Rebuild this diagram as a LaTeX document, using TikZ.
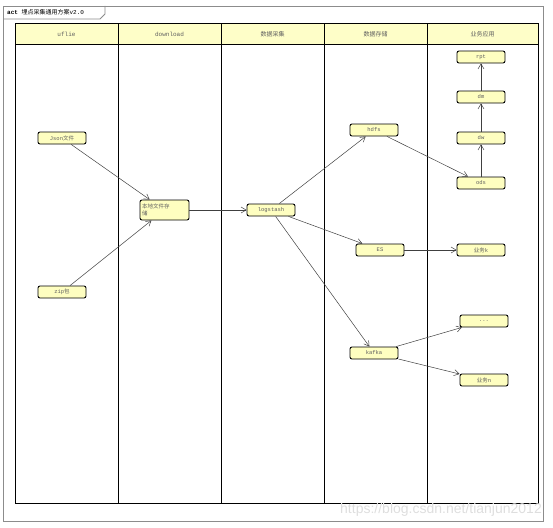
\documentclass[tikz,border=0pt]{standalone}
\usepackage{fontspec}
\setmainfont{Liberation Mono}
\newfontfamily\cjk{Noto Sans CJK SC}
\newfontfamily\wmfont{Liberation Sans}
\usetikzlibrary{arrows.meta}
\definecolor{nodeyel}{RGB}{254,254,192}
\definecolor{headyel}{RGB}{254,254,200}
\definecolor{txtgray}{RGB}{95,95,95}
\definecolor{framegray}{RGB}{140,140,140}
\tikzset{
  actbox/.style={draw=black, line width=0.9pt, rounded corners=2pt, fill=nodeyel,
    minimum width=48pt, minimum height=12pt, inner sep=1pt,
    font=\fontsize{5.5}{6.5}\selectfont, text=txtgray},
  conn/.style={draw=black!75, line width=0.5pt, -{Straight Barb[length=5pt,width=6pt]}},
  lanehead/.style={font=\fontsize{6}{7}\selectfont, text=txtgray},
  laneline/.style={draw=black, line width=1pt}
}
\begin{document}
\begin{tikzpicture}[x=1pt,y=-1pt]
\useasboundingbox (0,0) rectangle (553,527);
% outer frame and title tab
\draw[framegray, line width=0.8pt] (3,6) rectangle (543,521);
\draw[framegray, line width=0.8pt] (3,19) -- (100,19) -- (105,14) -- (105,6);
\node[anchor=west, font=\fontsize{6}{7}\selectfont, inner sep=0pt] (title) at (7,12.5)
  {\textbf{act} {\cjk 埋点采集通用方案}v2.0};
% header
\fill[headyel] (15,24) rectangle (538,45);
\draw[laneline] (15,24) rectangle (538,503);
\draw[laneline] (15,45) -- (538,45);
\foreach \x in {118,221,324,427} \draw[laneline] (\x,24) -- (\x,503);
\node[lanehead] (h1) at (66.5,34.5) {uflie};
\node[lanehead] (h2) at (169.5,34.5) {download};
\node[lanehead] (h3) at (272.5,34.5) {\cjk 数据采集};
\node[lanehead] (h4) at (375.5,34.5) {\cjk 数据存储};
\node[lanehead] (h5) at (482.5,34.5) {\cjk 业务应用};
% nodes
\node[actbox] (json) at (62,138) {Json{\cjk 文件}};
\node[actbox] (zip) at (62,292) {zip{\cjk 包}};
\node[actbox, minimum width=49pt, minimum height=20pt, text width=45pt, align=left] (local) at (164.5,210)
  {\cjk 本地文件存\\储};
\node[actbox] (logstash) at (271,210) {logstash};
\node[actbox] (hdfs) at (374,130) {hdfs};
\node[actbox] (es) at (380,250) {ES};
\node[actbox] (kafka) at (374,353) {kafka};
\node[actbox] (ods) at (481,183) {ods};
\node[actbox] (dw) at (481,138) {dw};
\node[actbox] (dm) at (481,97) {dm};
\node[actbox] (rpt) at (481,57) {rpt};
\node[actbox] (bizk) at (481,250) {{\cjk 业务}k};
\node[actbox] (dots) at (484,321) {...};
\node[actbox] (bizn) at (484,380) {{\cjk 业务}n};
% connectors
\draw[conn] (json) -- (local);
\draw[conn] (zip) -- (local);
\draw[conn] (local) -- (logstash);
\draw[conn] (logstash) -- (hdfs);
\draw[conn] (logstash) -- (es);
\draw[conn] (logstash) -- (kafka);
\draw[conn] (hdfs) -- (ods);
\draw[conn] (ods) -- (dw);
\draw[conn] (dw) -- (dm);
\draw[conn] (dm) -- (rpt);
\draw[conn] (es) -- (bizk);
\draw[conn] (kafka) -- (dots);
\draw[conn] (kafka) -- (bizn);
% watermark
\node[anchor=east, font=\wmfont\fontsize{14}{16}\selectfont, text=black!13, inner sep=0pt] (wm) at (542,510)
  {https://blog.csdn.net/tianjun2012};
\end{tikzpicture}
\end{document}
